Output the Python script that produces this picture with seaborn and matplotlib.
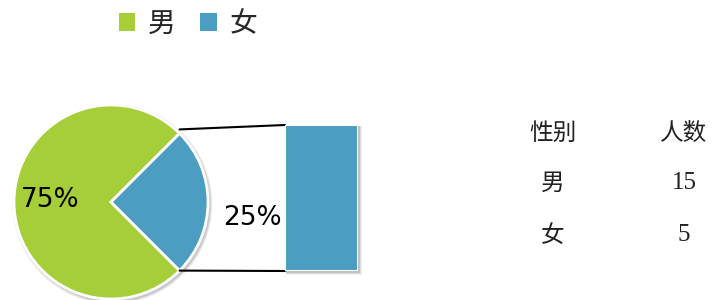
import numpy as np
import matplotlib
matplotlib.use("Agg")
import matplotlib.pyplot as plt
from matplotlib.patches import Patch, Circle, Rectangle
import seaborn as sns

sns.set_theme(style="white")
plt.rcParams['font.family'] = ['DejaVu Sans', 'Noto Sans CJK SC']

# ---- data ----
categories = ['男', '女']
counts = [15, 5]
table_header = ['性别', '人数']
colors = ['#A6CE39', '#4B9EC2']

total = sum(counts)
pcts = [f"{round(c / total * 100)}%" for c in counts]

W, H = 712, 300
fig = plt.figure(figsize=(W / 100, H / 100), dpi=100)
ax = fig.add_axes([0, 0, 1, 1])
ax.set_xlim(0, W)
ax.set_ylim(0, H)
ax.set_axis_off()

cx, cy, r = 111, 98, 97
start = 45
# shadow for pie
for k, a in [(3, 0.06), (2, 0.08), (1, 0.1)]:
    ax.add_patch(Circle((cx + 1.5, cy - 2), r + k, color='black', alpha=a, lw=0, zorder=1))

wedges, _ = ax.pie(counts, colors=colors, startangle=start, counterclock=True,
                   center=(cx, cy), radius=r,
                   wedgeprops=dict(edgecolor='white', linewidth=2, zorder=2))
ax.set_xlim(0, W)
ax.set_ylim(0, H)
ax.set_aspect('equal')

ax.text(50, 100, pcts[0], ha='center', va='center', fontsize=19,
        family=['DejaVu Sans'], color='black', zorder=5)
ax.text(252, 82, pcts[1], ha='center', va='center', fontsize=19,
        family=['DejaVu Sans'], color='black', zorder=5)

# bar of pie (secondary bar)
bx0, bx1, by0, by1 = 285, 358, 29, 175
for k, a in [(3, 0.06), (2, 0.08), (1, 0.12)]:
    ax.add_patch(Rectangle((bx0 + 1, by0 - 1 - k), (bx1 - bx0) + k, (by1 - by0) + k,
                           color='black', alpha=a, lw=0, zorder=1))
bax = fig.add_axes([bx0 / W, by0 / H, (bx1 - bx0) / W, (by1 - by0) / H])
sns.barplot(x=[categories[1]], y=[counts[1]], ax=bax, color=colors[1], width=1.0,
            saturation=1, edgecolor='white', linewidth=1.5)
bax.set_xlim(-0.5, 0.5)
bax.set_ylim(0, counts[1])
bax.set_axis_off()

# connector lines from the wedge edges to bar corners
th1 = np.deg2rad(start + 360 * counts[0] / total)  # lower edge (-45)
th2 = np.deg2rad(start)                              # upper edge
p_up = (cx + r * np.cos(th2), cy + r * np.sin(th2))
p_lo = (cx + r * np.cos(th1), cy + r * np.sin(th1))
ax.plot([p_up[0], bx0], [p_up[1] + 4, by1], color='black', lw=1.5, zorder=3)
ax.plot([p_lo[0], bx0], [p_lo[1], by0], color='black', lw=1.5, zorder=3)

# legend
handles = [Patch(facecolor=c, edgecolor='none') for c in colors]
fig.legend(handles, categories, loc='center', bbox_to_anchor=(188 / W, 1 - 24 / H),
           ncol=2, frameon=False, handlelength=0.6, handleheight=0.6,
           handletextpad=0.45, columnspacing=0.9,
           prop={'family': ['Noto Sans CJK SC'], 'size': 20})

# table
cjk = ['Noto Sans CJK SC']
col_x = [553, 684]
row_y = [H - 133, H - 183, H - 235]
ax.text(col_x[0], row_y[0], table_header[0], ha='center', va='center', fontsize=17, family=cjk, color='#222222')
ax.text(col_x[1], row_y[0], table_header[1], ha='center', va='center', fontsize=17, family=cjk, color='#222222')
for i, (cat, cnt) in enumerate(zip(categories, counts)):
    ax.text(col_x[0], row_y[i + 1], cat, ha='center', va='center', fontsize=17, family=cjk, color='#222222')
    ax.text(col_x[1], row_y[i + 1], str(cnt), ha='center', va='center', fontsize=18,
            family=['Liberation Serif'], color='#222222')

fig.savefig('out.png', dpi=100)
